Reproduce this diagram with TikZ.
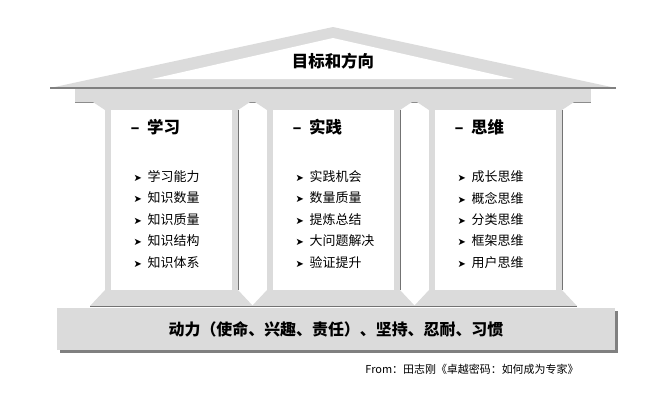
\documentclass[tikz,border=0pt]{standalone}
\usepackage{fontspec}
\setmainfont{Noto Sans CJK SC}
\newfontfamily\sym{DejaVu Sans}
\begin{document}
\begin{tikzpicture}[x=1bp,y=-1bp,
  lg/.style={fill=black!14},
  head/.style={font=\bfseries\fontsize{16.5}{18}\selectfont,anchor=west},
  item/.style={font=\fontsize{13}{15}\selectfont,anchor=west},
  base/.style={font=\bfseries\fontsize{16}{18}\selectfont}]
\useasboundingbox (0,0) rectangle (664,400);
% roof
\fill[lg] (50,88) -- (333,27) -- (616,88) -- cycle;
\fill[white] (152,79) -- (333,38) -- (514,79) -- cycle;
\draw[black!50,line width=1.2] (50,88) -- (616,88);
% beam
\fill[lg] (75,89) rectangle (591,102);
\draw[black!45,line width=1] (75,102) -- (591,102);
% pillars
\foreach \x/\n in {105/a,267/b,429/c}{
  \fill[lg] (\x-12,102) -- (\x+145,102) -- (\x+133,110) -- (\x,110) -- cycle;
  \fill[lg] (\x,110) rectangle (\x+133,290);
  \fill[white] (\x+6,110) rectangle (\x+127,290);
  \draw[black!55,line width=1] (\x+133,110) -- (\x+133,290);
  \fill[lg] (\x,290) -- (\x+133,290) -- (\x+148,306) -- (\x-15,306) -- cycle;
  \draw[black!55,line width=1] (\x-15,306) -- (\x+148,306);
}
% base
\fill[black!50] (60,311) rectangle (618,353);
\fill[lg] (57,308) rectangle (615,350);
\node[font=\bfseries\fontsize{16.5}{18}\selectfont] (roof) at (333,61) {目标和方向};
\node[base] (found) at (336,329) {动力（使命、兴趣、责任）、坚持、忍耐、习惯};
\node[head] (h1) at (127,127) {–\ \ 学习};
\node[head] (h2) at (289,127) {–\ \ 实践};
\node[head] (h3) at (451,127) {–\ \ 思维};
\foreach \col/\xx/\list in {a/130/{学习能力,知识数量,知识质量,知识结构,知识体系},
  b/292/{实践机会,数量质量,提炼总结,大问题解决,验证提升},
  c/454/{成长思维,概念思维,分类思维,框架思维,用户思维}}{
  \foreach \t [count=\i] in \list {
    \node[item] (\col\i) at (\xx,155+21.5*\i) {{\sym\fontsize{10}{12}\selectfont ➤}\ \ \t};
  }
}
\node[font=\fontsize{11}{13}\selectfont,anchor=east] (src) at (582,369) {From：田志刚《卓越密码：如何成为专家》};
\end{tikzpicture}
\end{document}
